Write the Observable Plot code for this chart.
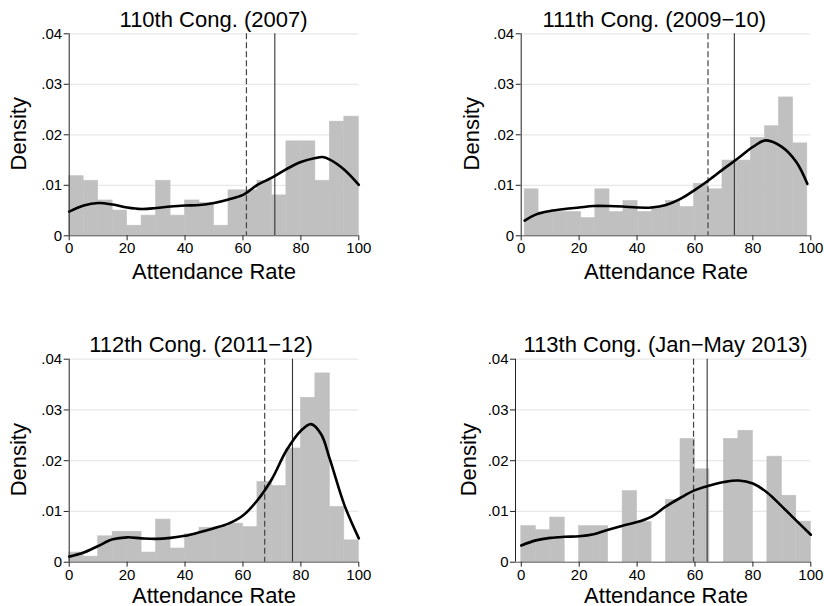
<!DOCTYPE html>
<html>
<head>
<meta charset="utf-8">
<script src="https://cdn.jsdelivr.net/npm/d3@7"></script>
<script src="https://cdn.jsdelivr.net/npm/@observablehq/plot@0.6"></script>
<style>
  body { margin: 0; background: #fff; }
  #chart { position: relative; width: 824px; height: 606px; background: #fff; overflow: hidden; }
  #chart svg { position: absolute; }
</style>
</head>
<body>
<div id="chart"></div>
<script>
// Attendance-rate histograms with kernel density, one panel per Congress.
const titles = ["110th Cong. (2007)", "111th Cong. (2009\u221210)", "112th Cong. (2011\u221212)", "113th Cong. (Jan\u2212May 2013)"];
const xLabel = "Attendance Rate";
const yLabel = "Density";
const xTicks = [0, 20, 40, 60, 80, 100];
const xTickLabels = ["0", "20", "40", "60", "80", "100"];
const yTicks = [0, 0.01, 0.02, 0.03, 0.04];
const yTickLabels = ["0", ".01", ".02", ".03", ".04"];

// Histogram bin edges
const edges5 = [0, 5, 10, 15, 20, 25, 30, 35, 40, 45, 50, 55, 60, 65, 70, 75, 80, 85, 90, 95, 100];
const edges111 = [1.2, 6.0, 10.9, 15.8, 20.7, 25.6, 30.5, 35.3, 40.2, 45.1, 50.0, 54.9, 59.7, 64.6, 69.5, 74.4, 79.3, 84.2, 89.0, 93.9, 98.8];

// Histogram densities
const density110 = [0.0118, 0.0109, 0.0070, 0.0050, 0.0020, 0.0040, 0.0109, 0.0040, 0.0070, 0.0065, 0.0020, 0.0090, 0.0090, 0.0109, 0.0080, 0.0187, 0.0187, 0.0109, 0.0226, 0.0236];
const density111 = [0.0092, 0.0047, 0.0047, 0.0047, 0.0035, 0.0092, 0.0047, 0.0069, 0.0047, 0.0057, 0.0069, 0.0057, 0.0103, 0.0092, 0.0149, 0.0149, 0.0194, 0.0217, 0.0274, 0.0183];
const density112 = [0.0019, 0.0011, 0.0051, 0.0060, 0.0060, 0.0019, 0.0084, 0.0027, 0.0055, 0.0068, 0.0069, 0.0076, 0.0069, 0.0158, 0.0150, 0.0224, 0.0324, 0.0372, 0.0109, 0.0043];
const density113 = [0.0071, 0.0063, 0.0088, 0, 0.0071, 0.0071, 0, 0.0140, 0.0079, 0, 0.0123, 0.0243, 0.0183, 0, 0.0243, 0.0259, 0, 0.0208, 0.0131, 0.0080];

// Kernel density estimates
const kdeX110 = [0, 5, 10, 15, 20, 25, 30, 35, 40, 45, 50, 55, 60, 65, 70, 75, 80, 85, 87.5, 90, 95, 100];
const kdeY110 = [0.0048, 0.0060, 0.0065, 0.0062, 0.0056, 0.0053, 0.0055, 0.0058, 0.0060, 0.0061, 0.0065, 0.0072, 0.0081, 0.0101, 0.0115, 0.0132, 0.0146, 0.0154, 0.0156, 0.0151, 0.0131, 0.0101];
const kdeX111 = [1.2, 5, 10, 15, 20, 25, 30, 35, 40, 45, 50, 55, 60, 65, 70, 75, 80, 84.5, 90, 95, 98.8];
const kdeY111 = [0.0030, 0.0042, 0.0049, 0.0053, 0.0056, 0.0059, 0.0059, 0.0058, 0.0056, 0.0056, 0.0061, 0.0073, 0.0091, 0.0111, 0.0133, 0.0154, 0.0176, 0.0189, 0.0176, 0.0146, 0.0103];
const kdeX112 = [0, 5, 10, 15, 20, 25, 30, 35, 40, 45, 50, 55, 60, 65, 70, 75, 80, 83.5, 87, 90, 95, 100];
const kdeY112 = [0.0011, 0.0019, 0.0032, 0.0045, 0.0049, 0.0047, 0.0046, 0.0048, 0.0052, 0.0059, 0.0067, 0.0076, 0.0092, 0.0122, 0.0164, 0.0220, 0.0259, 0.0272, 0.0252, 0.0203, 0.0113, 0.0047];
const kdeX113 = [0, 5, 10, 15, 20, 25, 30, 35, 40, 45, 50, 55, 60, 65, 70, 75, 80, 85, 90, 95, 100];
const kdeY113 = [0.0033, 0.0043, 0.0048, 0.0050, 0.0051, 0.0055, 0.0064, 0.0072, 0.0079, 0.0090, 0.0110, 0.0127, 0.0142, 0.0151, 0.0158, 0.0161, 0.0155, 0.0137, 0.0110, 0.0082, 0.0054];

// Mean (dashed) and median (solid) attendance
const means = [61.2, 64.5, 67.5, 59.5];
const medians = [71.0, 73.6, 77.1, 64.2];

const FONT = "'Liberation Sans', Arial, Helvetica, sans-serif";
const BAR = "#c0c0c0";
const yFmt = new Map(yTicks.map((v, i) => [v, yTickLabels[i]]));
const xFmt = new Map(xTicks.map((v, i) => [v, xTickLabels[i]]));

// Panel placement (pixels)
const panels = [
  {edges: edges5, dens: density110, kx: kdeX110, ky: kdeY110, xMin: 0, left: 0, top: 0,
   mL: 68.7, mR: 53.7, mT: 33.3, mB: 67.7, titleX: 213, titleY: 26.8, xLabY: 278, yLabX: 26, yLabY: 133.3},
  {edges: edges111, dens: density111, kx: kdeX111, ky: kdeY111, xMin: 0, left: 412, top: 0,
   mL: 108.7, mR: 13.7, mT: 33.3, mB: 67.7, titleX: 653.8, titleY: 26.8, xLabY: 278, yLabX: 478.5, yLabY: 133.3},
  {edges: edges5, dens: density112, kx: kdeX112, ky: kdeY112, xMin: 0, left: 0, top: 303,
   mL: 68.7, mR: 53.7, mT: 55.7, mB: 44.3, titleX: 200.5, titleY: 351.4, xLabY: 602, yLabX: 26, yLabY: 459.2},
  {edges: edges5, dens: density113, kx: kdeX113, ky: kdeY113, xMin: -2, left: 412, top: 303,
   mL: 103, mR: 13.7, mT: 55.7, mB: 44.3, titleX: 665, titleY: 351.4, xLabY: 602, yLabX: 475, yLabY: 459.2}
];

const chart = document.getElementById("chart");

panels.forEach((p, k) => {
  const bars = p.dens.map((d, i) => ({x1: p.edges[i], x2: p.edges[i + 1], y: d}));
  const kde = p.kx.map((x, i) => ({x, y: p.ky[i]}));
  const W = 412, H = 303;
  // anchor offsets relative to the frame's top-left corner
  const fx = p.left + p.mL, fy = p.top + p.mT;
  // x position of the value 50 on this panel's scale
  const x50 = fx + (50 - p.xMin) / (100 - p.xMin) * (W - p.mL - p.mR);

  const svg = Plot.plot({
    width: W,
    height: H,
    marginLeft: p.mL,
    marginRight: p.mR,
    marginTop: p.mT,
    marginBottom: p.mB,
    style: {fontFamily: FONT, background: "transparent", color: "#000", overflow: "visible"},
    x: {domain: [p.xMin, 100], axis: null},
    y: {domain: [0, 0.04], axis: null},
    marks: [
      // horizontal grid (spans the frame)
      Plot.ruleY(yTicks.slice(1), {stroke: "#e8e8e8", strokeWidth: 1.2}),
      // histogram
      Plot.rectY(bars, {x1: "x1", x2: "x2", y: "y", fill: BAR, stroke: BAR, strokeWidth: 0.6}),
      // mean and median markers
      Plot.ruleX([means[k]], {stroke: "#444", strokeWidth: 1.2, strokeDasharray: "6,3"}),
      Plot.ruleX([medians[k]], {stroke: "#333", strokeWidth: 1.1}),
      // kernel density
      Plot.line(kde, {x: "x", y: "y", curve: "catmull-rom", stroke: "#000", strokeWidth: 2.6}),
      // axis lines
      Plot.ruleX([p.xMin], {stroke: "#222", strokeWidth: 1}),
      Plot.ruleY([0], {stroke: "#555", strokeWidth: 1}),
      Plot.axisX({ticks: xTicks, tickFormat: d => xFmt.get(d), tickSize: 5, tickPadding: 2,
                  fontSize: 15, label: null, stroke: "#222"}),
      Plot.axisY({ticks: yTicks, tickFormat: d => yFmt.get(d), tickSize: 5, tickPadding: 2,
                  fontSize: 15, label: null, anchor: "left", stroke: "#222"}),
      // titles
      Plot.text([titles[k]], {frameAnchor: "top-left", text: d => d, dx: p.titleX - fx, dy: p.titleY - fy,
                  textAnchor: "middle", lineAnchor: "bottom", fontSize: 22, fill: "#000"}),
      Plot.text([xLabel], {frameAnchor: "top-left", text: d => d, dx: x50 - fx, dy: p.xLabY - fy,
                  textAnchor: "middle", lineAnchor: "bottom", fontSize: 22, fill: "#000"}),
      Plot.text([yLabel], {frameAnchor: "top-left", text: d => d, dx: p.yLabX - fx, dy: p.yLabY - fy,
                  rotate: -90, textAnchor: "middle", lineAnchor: "bottom", fontSize: 22, fill: "#000"})
    ]
  });
  svg.style.left = p.left + "px";
  svg.style.top = p.top + "px";
  chart.appendChild(svg);
});
</script>
</body>
</html>
